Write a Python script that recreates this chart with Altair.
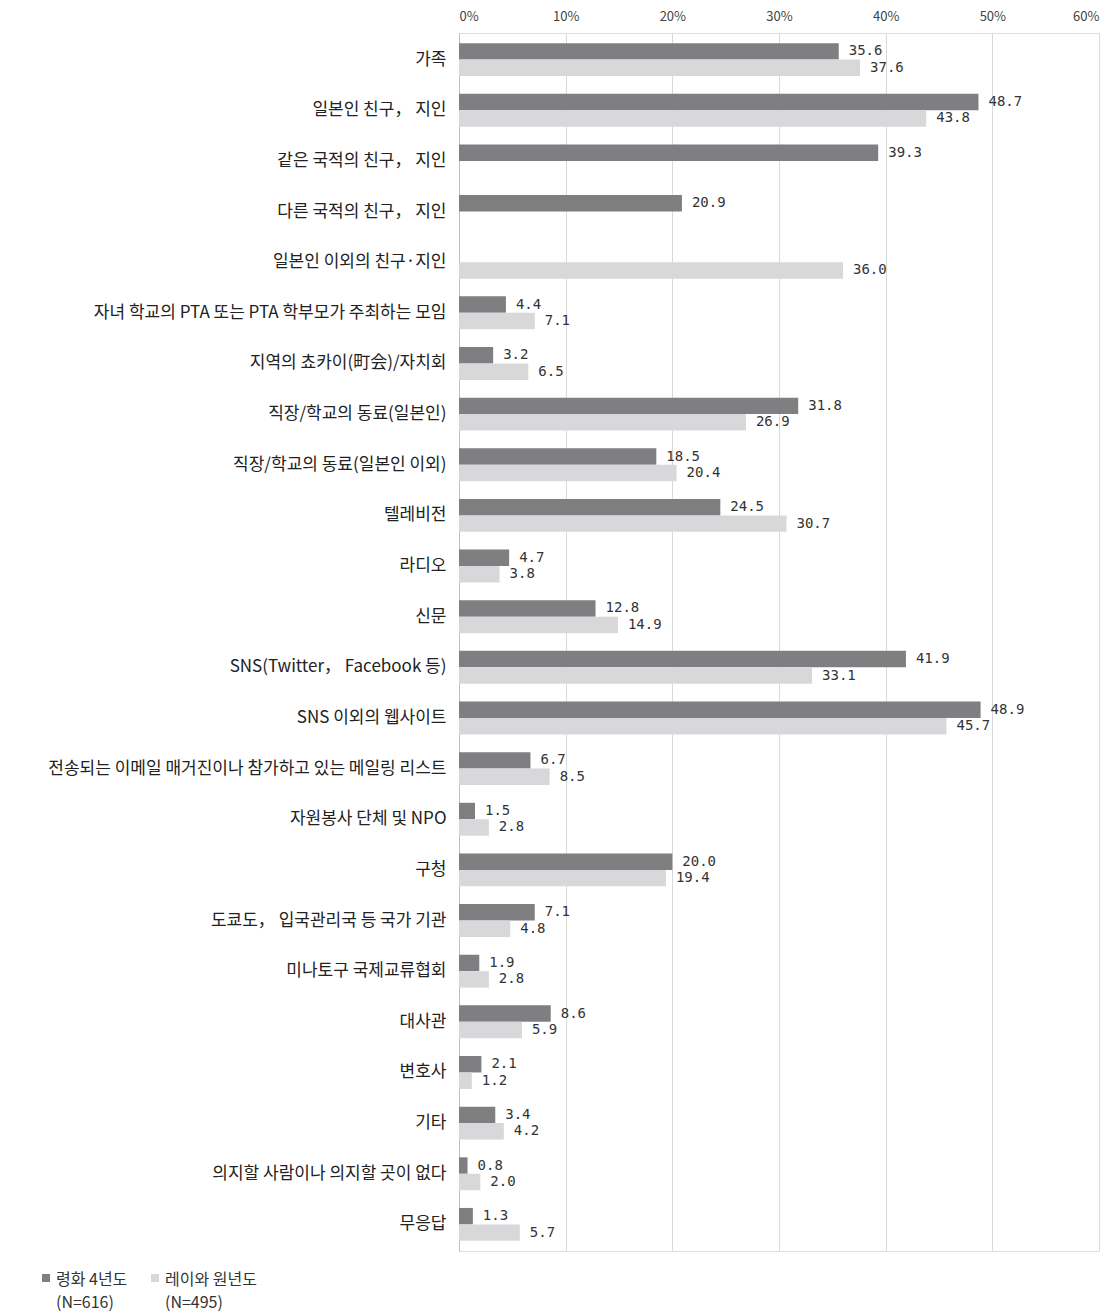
import altair as alt
import pandas as pd

categories = [
    "가족",
    "일본인 친구， 지인",
    "같은 국적의 친구， 지인",
    "다른 국적의 친구， 지인",
    "일본인 이외의 친구·지인",
    "자녀 학교의 PTA 또는 PTA 학부모가 주최하는 모임",
    "지역의 쵸카이(町会)/자치회",
    "직장/학교의 동료(일본인)",
    "직장/학교의 동료(일본인 이외)",
    "텔레비전",
    "라디오",
    "신문",
    "SNS(Twitter， Facebook 등)",
    "SNS 이외의 웹사이트",
    "전송되는 이메일 매거진이나 참가하고 있는 메일링 리스트",
    "자원봉사 단체 및 NPO",
    "구청",
    "도쿄도， 입국관리국 등 국가 기관",
    "미나토구 국제교류협회",
    "대사관",
    "변호사",
    "기타",
    "의지할 사람이나 의지할 곳이 없다",
    "무응답",
]
series_names = ["령화 4년도", "레이와 원년도"]
series_n = ["(N=616)", "(N=495)"]
values_r4 = [35.6, 48.7, 39.3, 20.9, None, 4.4, 3.2, 31.8, 18.5, 24.5, 4.7, 12.8,
             41.9, 48.9, 6.7, 1.5, 20.0, 7.1, 1.9, 8.6, 2.1, 3.4, 0.8, 1.3]
values_r1 = [37.6, 43.8, None, None, 36.0, 7.1, 6.5, 26.9, 20.4, 30.7, 3.8, 14.9,
             33.1, 45.7, 8.5, 2.8, 19.4, 4.8, 2.8, 5.9, 1.2, 4.2, 2.0, 5.7]
x_ticks = [0, 10, 20, 30, 40, 50, 60]
colors = ["#7f7f81", "#d8d8da"]

rows = []
for i, c in enumerate(categories):
    for s, vals in zip(series_names, [values_r4, values_r1]):
        v = vals[i]
        if v is not None:
            rows.append({"category": c, "series": s, "value": v})
df = pd.DataFrame(rows)

FONT = "Noto Sans CJK KR"
SHIFT = 6  # vertical lift applied to guide labels (for the two-line legend)

y_enc = alt.Y("category:N", sort=categories, title=None,
              scale=alt.Scale(paddingInner=0.35, paddingOuter=0.2),
              axis=alt.Axis(labelFont=FONT, labelFontSize=17, labelColor="#222222",
                            ticks=False, domain=True, domainColor="#bfbfbf",
                            labelPadding=13, labelLimit=600, labelOffset=SHIFT))
yoff = alt.YOffset("series:N", sort=series_names)
x_enc = alt.X("value:Q", title=None,
              scale=alt.Scale(domain=[0, 60], nice=False),
              axis=alt.Axis(orient="top", values=x_ticks,
                            labelExpr="datum.value + '%'", labelFont=FONT,
                            labelFontSize=13, labelColor="#444444", ticks=False,
                            domain=False, gridColor="#d9d9d9", gridWidth=1,
                            labelPadding=10 - SHIFT))

ind = "\u2002\u2002"
label_expr = "datum.label == '%s' ? ['%s', '%s%s'] : ['%s', '%s%s']" % (
    series_names[0], series_names[0], ind, series_n[0],
    series_names[1], ind, series_n[1])

bars = alt.Chart(df).mark_bar().encode(
    y=y_enc,
    yOffset=yoff,
    x=x_enc,
    color=alt.Color("series:N", sort=series_names,
                    scale=alt.Scale(domain=series_names, range=colors),
                    legend=alt.Legend(title=None, orient="none", direction="horizontal",
                                      legendX=-421, legendY=1237,
                                      symbolType="square", symbolSize=64,
                                      symbolStrokeWidth=0,
                                      labelFont=FONT, labelFontSize=16,
                                      labelColor="#333333", labelExpr=label_expr,
                                      labelBaseline="top",
                                      columnPadding=19, symbolOffset=0,
                                      labelOffset=2)),
)

texts = alt.Chart(df).transform_calculate(
    label="format(datum.value, '.1f')"
).mark_text(align="left", baseline="middle", dx=10, font="DejaVu Sans Mono",
            fontSize=14, color="#333333").encode(
    y=alt.Y("category:N", sort=categories),
    yOffset=yoff,
    x=alt.X("value:Q"),
    text=alt.Text("label:N"),
)

chart = alt.layer(bars, texts).properties(
    width=640, height=1218,
    autosize=alt.AutoSizeParams(type="none"),
    padding={"left": 451, "top": 25, "right": 10, "bottom": 61},
).configure_view(stroke=None).configure(
    background="white",
    style={"guide-label": {"lineHeight": 23, "dy": -SHIFT}},
)

chart.save("out.html", embed_options={"renderer": "svg", "actions": False})
